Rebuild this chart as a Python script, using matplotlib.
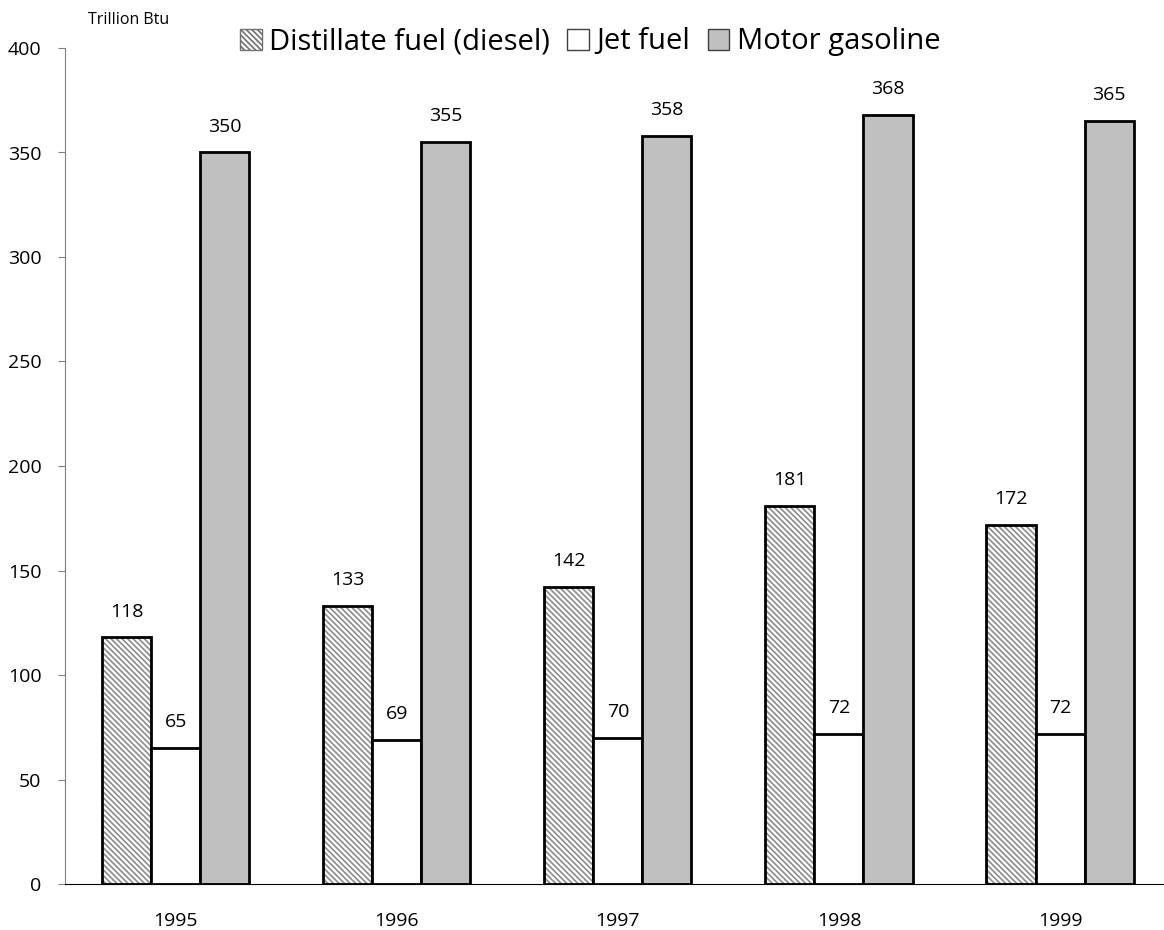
import numpy as np
import matplotlib.pyplot as plt
import matplotlib as mpl

plt.rcParams['font.family'] = ['Open Sans', 'DejaVu Sans']
mpl.rcParams['hatch.linewidth'] = 1.2

years = ["1995", "1996", "1997", "1998", "1999"]
diesel = [118, 133, 142, 181, 172]
jet = [65, 69, 70, 72, 72]
gasoline = [350, 355, 358, 368, 365]

fig = plt.figure(figsize=(11.64, 9.30), dpi=100)
ax = fig.add_axes([65 / 1164, 1 - 884 / 930, (1164 - 65) / 1164, (884 - 48) / 930])

x = np.arange(len(years))
w = 0.222
hatch_gray = '#8c8c8c'

# hatched fill drawn in gray, then a black outline on top
b1 = ax.bar(x - w, diesel, w, color='white', edgecolor=hatch_gray, linewidth=0, hatch='\\' * 6,
            label='Distillate fuel (diesel)')
ax.bar(x - w, diesel, w, fill=False, edgecolor='black', linewidth=2)
b2 = ax.bar(x, jet, w, color='white', edgecolor='black', linewidth=2, label='Jet fuel')
b3 = ax.bar(x + w, gasoline, w, color='#c0c0c0', edgecolor='black', linewidth=2, label='Motor gasoline')

for bars, vals in [(b1, diesel), (b2, jet), (b3, gasoline)]:
    for rect, v in zip(bars, vals):
        ax.text(rect.get_x() + rect.get_width() / 2, v + 8, str(v), ha='center', va='bottom', fontsize=14)

ax.set_xlim(-0.5, 4.47)
ax.set_ylim(0, 400)
ax.set_yticks(range(0, 401, 50))
ax.set_xticks(x)
ax.set_xticklabels(years, fontsize=14)
ax.tick_params(axis='x', length=0, pad=20)
ax.tick_params(axis='y', labelsize=14, length=5, direction='out', color='#808080', pad=12)
for s in ['top', 'right']:
    ax.spines[s].set_visible(False)
ax.spines['left'].set_color('#808080')
ax.spines['bottom'].set_color('black')

fig.text(88 / 1164, 1 - 20 / 930, 'Trillion Btu', fontsize=11.5, ha='left', va='center')

leg = fig.legend(handles=[b1, b2, b3], loc='center', bbox_to_anchor=(590 / 1164, 1 - 42 / 930), ncol=3,
                 frameon=False, fontsize=21, handlelength=0.75, handleheight=0.75, handletextpad=0.25,
                 columnspacing=0.6)
for h in leg.legend_handles:
    h.set_linewidth(1.0)
leg.legend_handles[0].set_edgecolor('#707070')
leg.legend_handles[1].set_edgecolor('#404040')
leg.legend_handles[2].set_edgecolor('#404040')

fig.savefig('out.png', dpi=100)
